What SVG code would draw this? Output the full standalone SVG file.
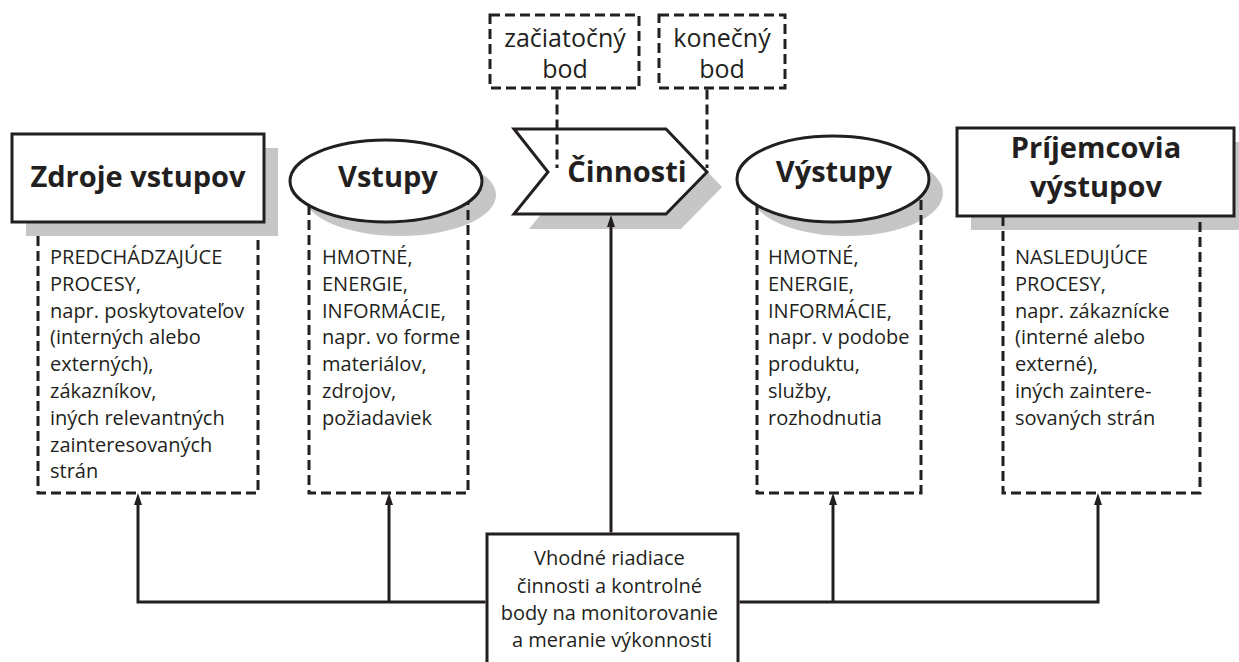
<svg xmlns="http://www.w3.org/2000/svg" width="1239" height="662" viewBox="0 0 1239 662">
<defs>
<style>
.title{font-family:"Open Sans","Noto Sans","DejaVu Sans",sans-serif;font-weight:700;font-size:29px;fill:#231f20;text-anchor:middle}
.body{font-family:"Open Sans","Noto Sans","DejaVu Sans",sans-serif;font-size:20px;fill:#231f20}
.center{text-anchor:middle}
.note{font-family:"Open Sans","Noto Sans","DejaVu Sans",sans-serif;font-size:25px;fill:#231f20;text-anchor:middle}
.shape{fill:#fff;stroke:#231f20;stroke-width:3}
.shadow{fill:#c6c6c6}
.dash{fill:none;stroke:#231f20;stroke-width:3;stroke-dasharray:10 5}
.line{fill:none;stroke:#231f20;stroke-width:3}
</style>
<marker id="arrow" viewBox="0 0 12 8" refX="4" refY="4" markerWidth="12" markerHeight="8" markerUnits="userSpaceOnUse" orient="auto">
<path d="M0,0 L12,4 L0,8 Z" fill="#231f20"/>
</marker>
</defs>
<rect width="1239" height="662" fill="#fff"/>

<g id="node-zdroje">
<rect class="shadow" x="26" y="148" width="252" height="88"/>
<rect class="shape" x="12" y="134" width="252" height="88"/>
<text class="title" x="138" y="187">Zdroje vstupov</text>
</g>

<g id="node-vstupy">
<ellipse class="shadow" cx="400" cy="195" rx="96" ry="41"/>
<ellipse class="shape" cx="386" cy="181" rx="96" ry="41"/>
<text class="title" x="388" y="187">Vstupy</text>
</g>

<g id="node-cinnosti">
<polygon class="shadow" points="529,144 681,144 722,187 681,229 529,229 563,187"/>
<polygon class="shape" points="514,129 666,129 707,172 666,214 514,214 548,172"/>
<text class="title" x="627" y="182">Činnosti</text>
</g>

<g id="node-vystupy">
<ellipse class="shadow" cx="847" cy="193" rx="96" ry="43"/>
<ellipse class="shape" cx="833" cy="179" rx="96" ry="43"/>
<text class="title" x="834" y="182">Výstupy</text>
</g>

<g id="node-prijemcovia">
<rect class="shadow" x="971" y="142" width="277" height="88"/>
<rect class="shape" x="957" y="128" width="277" height="88"/>
<text class="title" x="1096" y="158">Príjemcovia</text>
<text class="title" x="1096" y="197">výstupov</text>
</g>

<g id="node-zaciatocny-bod">
<rect class="dash" x="490" y="15" width="149" height="73"/>
<text class="note" x="565" y="47">začiatočný</text>
<text class="note" x="565" y="78">bod</text>
</g>

<g id="node-konecny-bod">
<rect class="dash" x="659" y="15" width="126" height="73"/>
<text class="note" x="722" y="47">konečný</text>
<text class="note" x="722" y="78">bod</text>
</g>

<g id="desc-zdroje">
<path class="dash" d="M38,236 V493 H258 V236"/>
<text class="body">
<tspan x="50" y="264">PREDCHÁDZAJÚCE</tspan>
<tspan x="50" y="290.8">PROCESY,</tspan>
<tspan x="50" y="317.6">napr. poskytovateľov</tspan>
<tspan x="50" y="344.4">(interných alebo</tspan>
<tspan x="50" y="371.2">externých),</tspan>
<tspan x="50" y="398">zákazníkov,</tspan>
<tspan x="50" y="424.8">iných relevantných</tspan>
<tspan x="50" y="451.6">zainteresovaných</tspan>
<tspan x="50" y="478.4">strán</tspan>
</text>
</g>

<g id="desc-vstupy">
<path class="dash" d="M309,205 V493 H468 V202"/>
<text class="body">
<tspan x="322" y="264">HMOTNÉ,</tspan>
<tspan x="322" y="290.8">ENERGIE,</tspan>
<tspan x="322" y="317.6">INFORMÁCIE,</tspan>
<tspan x="322" y="344.4">napr. vo forme</tspan>
<tspan x="322" y="371.2">materiálov,</tspan>
<tspan x="322" y="398">zdrojov,</tspan>
<tspan x="322" y="424.8">požiadaviek</tspan>
</text>
</g>

<g id="desc-vystupy">
<path class="dash" d="M757,205 V493 H921 V196"/>
<text class="body">
<tspan x="768" y="264">HMOTNÉ,</tspan>
<tspan x="768" y="290.8">ENERGIE,</tspan>
<tspan x="768" y="317.6">INFORMÁCIE,</tspan>
<tspan x="768" y="344.4">napr. v podobe</tspan>
<tspan x="768" y="371.2">produktu,</tspan>
<tspan x="768" y="398">služby,</tspan>
<tspan x="768" y="424.8">rozhodnutia</tspan>
</text>
</g>

<g id="desc-prijemcovia">
<path class="dash" d="M1003,216 V493 H1200 V216"/>
<text class="body">
<tspan x="1015" y="264">NASLEDUJÚCE</tspan>
<tspan x="1015" y="290.8">PROCESY,</tspan>
<tspan x="1015" y="317.6">napr. zákaznícke</tspan>
<tspan x="1015" y="344.4">(interné alebo</tspan>
<tspan x="1015" y="371.2">externé),</tspan>
<tspan x="1015" y="398">iných zaintere-</tspan>
<tspan x="1015" y="424.8">sovaných strán</tspan>
</text>
</g>

<g id="node-riadenie">
<rect class="shape" x="487" y="534" width="251" height="160"/>
<text class="body center">
<tspan x="612" y="565">Vhodné riadiace</tspan>
<tspan x="612" y="592.5">činnosti a kontrolné</tspan>
<tspan x="612" y="620">body na monitorovanie</tspan>
<tspan x="612" y="647">a meranie výkonnosti</tspan>
</text>
</g>

<g id="connectors">
<path class="line" d="M611,532.5 V223" marker-end="url(#arrow)"/>
<path class="line" d="M485.5,602 H138 V501" marker-end="url(#arrow)"/>
<path class="line" d="M389,602 V501" marker-end="url(#arrow)"/>
<path class="line" d="M739.5,602 H1098 V501" marker-end="url(#arrow)"/>
<path class="line" d="M833,602 V501" marker-end="url(#arrow)"/>
<path class="dash" d="M557,89.5 V168"/>
<path class="dash" d="M707,89.5 V168"/>
</g>
</svg>
